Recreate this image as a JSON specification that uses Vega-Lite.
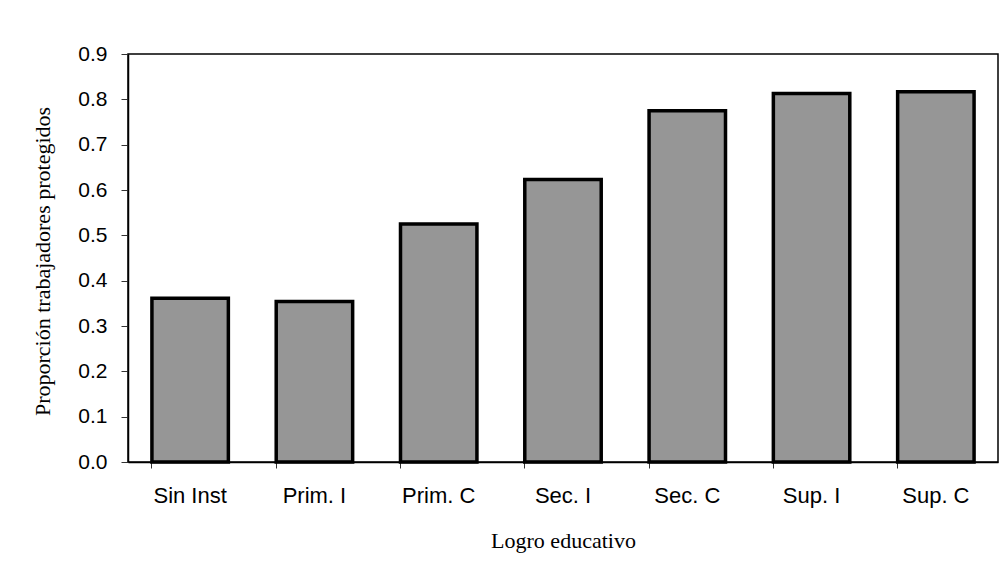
{
  "$schema": "https://vega.github.io/schema/vega-lite/v6.json",
  "autosize": "none",
  "width": 870,
  "height": 408,
  "padding": {"left": 128, "top": 54, "right": 4, "bottom": 113},
  "background": "white",
  "config": {
    "view": {"stroke": "#000", "strokeWidth": 1.5},
    "axis": {"grid": false, "labelColor": "#000", "titleColor": "#000", "domainColor": "#000", "tickColor": "#333"}
  },
  "data": {
    "values": [
      {"logro": "Sin Inst", "prop": 0.361},
      {"logro": "Prim. I", "prop": 0.354},
      {"logro": "Prim. C", "prop": 0.525},
      {"logro": "Sec. I", "prop": 0.623},
      {"logro": "Sec. C", "prop": 0.775},
      {"logro": "Sup. I", "prop": 0.813},
      {"logro": "Sup. C", "prop": 0.817}
    ]
  },
  "mark": {"type": "bar", "fill": "#969696", "stroke": "#000", "strokeWidth": 3.5, "strokeJoin": "miter"},
  "encoding": {
    "x": {
      "field": "logro",
      "type": "nominal",
      "sort": null,
      "scale": {"paddingInner": 0.385, "paddingOuter": 0.1925},
      "axis": {
        "title": "Logro educativo",
        "titleFont": "Liberation Serif",
        "titleFontSize": 22,
        "titleFontWeight": "normal",
        "titleY": 68,
        "labelAngle": 0,
        "labelFont": "Liberation Sans",
        "labelFontSize": 22,
        "labelPadding": 17,
        "tickSize": 6,
        "bandPosition": 0,
        "domainWidth": 1.5,
        "labelFlush": false
      }
    },
    "y": {
      "field": "prop",
      "type": "quantitative",
      "scale": {"domain": [0, 0.9], "nice": false},
      "axis": {
        "title": "Proporción trabajadores protegidos",
        "titleFont": "Liberation Serif",
        "titleFontSize": 22,
        "titleFontWeight": "normal",
        "titleX": -74,
        "titleY": 207,
        "values": [0, 0.1, 0.2, 0.3, 0.4, 0.5, 0.6, 0.7, 0.8, 0.9],
        "format": ".1f",
        "labelFont": "Liberation Sans",
        "labelFontSize": 21,
        "labelPadding": 14,
        "tickSize": 7,
        "domainWidth": 1.5,
        "labelFlush": false
      }
    }
  }
}
